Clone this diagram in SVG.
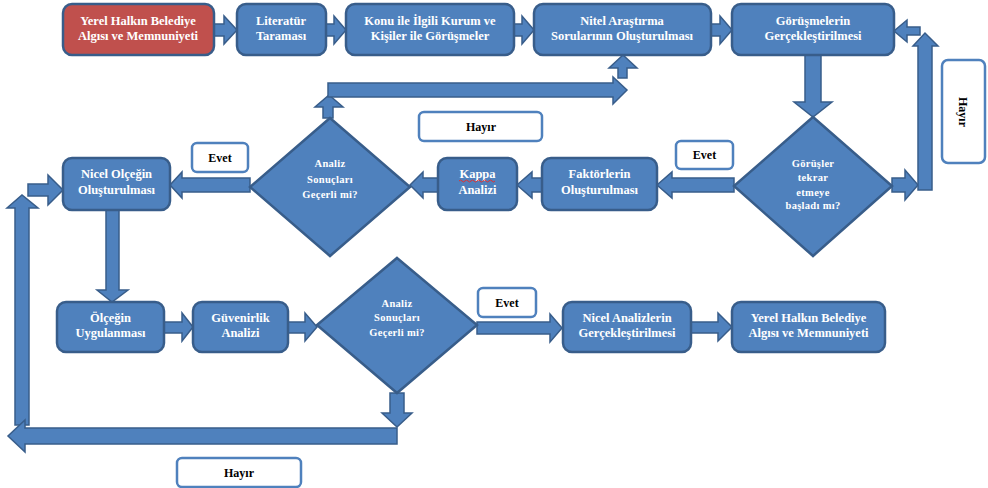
<svg xmlns="http://www.w3.org/2000/svg" width="988" height="488" viewBox="0 0 988 488">
<style>
.box{fill:#4F81BD;stroke:#385D8A;stroke-width:2.5}
.red{fill:#C0504D;stroke:#385D8A;stroke-width:2.5}
.arr{fill:#4F81BD;stroke:#385D8A;stroke-width:1.5;stroke-linejoin:miter}
.lbl{fill:#fff;stroke:#4F81BD;stroke-width:2.5}
.t{font-family:"Liberation Serif","Times New Roman",serif;font-weight:bold;font-size:12.5px;fill:#fff;text-anchor:middle}
.d{font-size:10.5px;letter-spacing:0.3px}
.k{fill:#000;font-size:12px}
</style>
<rect width="988" height="488" fill="#fff"/>
<g id="connectors">
<polygon class="arr" points="214,24 224,24 224,16 237,30 224,44 224,36 214,36"/>
<polygon class="arr" points="326,24 334,24 334,16 346,30 334,44 334,36 326,36"/>
<polygon class="arr" points="514,24 522,24 522,16 534,30 522,44 522,36 514,36"/>
<polygon class="arr" points="711,24 720,24 720,16 732,30 720,44 720,36 711,36"/>
<polygon class="arr" points="805,55 821,55 821,102 832,102 813,117 794,102 805,102"/>
<polygon class="arr" points="892,178 905,178 905,170 918,185 905,200 905,192 892,192"/>
<polygon class="arr" points="918,190 918,46 913,46 925,33 938,46 932,46 932,190"/>
<polygon class="arr" points="920,27 907,27 907,20 894,31 907,42 907,35 920,35"/>
<polygon class="arr" points="734,178 672,178 672,172 657,185 672,198 672,192 734,192"/>
<polygon class="arr" points="542,178 532,178 532,172 517,185 532,198 532,192 542,192"/>
<polygon class="arr" points="438,178 423,178 423,172 410,185 423,198 423,192 438,192"/>
<polygon class="arr" points="250,178 182,178 182,172 170,185 182,198 182,192 250,192"/>
<polygon class="arr" points="28,184 48,184 48,175 63,190 48,205 48,196 28,196"/>
<polygon class="arr" points="15,425 15,208 7,208 22,195 38,208 29,208 29,425"/>
<polygon class="arr" points="397,428 25,428 25,420 8,436 25,452 25,444 397,444"/>
<polygon class="arr" points="390,393 404,393 404,413 412,413 397,427 382,413 390,413"/>
<polygon class="arr" points="323,118 323,107 315,107 329,95 343,107 333,107 333,118"/>
<polygon class="arr" points="328,83 613,83 613,77 627,90 613,104 613,97 328,97"/>
<polygon class="arr" points="618,78 618,68 609,68 623,55 637,68 627,68 627,78"/>
<polygon class="arr" points="106,210 119,210 119,290 128,290 112,302 97,290 106,290"/>
<polygon class="arr" points="164,322 182,322 182,313 193,327 182,341 182,333 164,333"/>
<polygon class="arr" points="288,322 305,322 305,313 317,327 305,341 305,333 288,333"/>
<polygon class="arr" points="477,322 550,322 550,314 562,328 550,342 550,334 477,334"/>
<polygon class="arr" points="691,322 718,322 718,313 732,327 718,341 718,333 691,333"/>
</g>
<g id="n1"><rect class="red" x="63" y="4" width="151" height="51" rx="9"/><text class="t" x="138" y="25">Yerel Halkın Belediye</text><text class="t" x="138" y="40">Algısı ve Memnuniyeti</text></g>
<g id="n2"><rect class="box" x="237" y="4" width="89" height="51" rx="9"/><text class="t" x="281" y="25">Literatür</text><text class="t" x="281" y="40">Taraması</text></g>
<g id="n3"><rect class="box" x="346" y="4" width="168" height="51" rx="9"/><text class="t" x="430" y="25">Konu ile İlgili Kurum ve</text><text class="t" x="430" y="40">Kişiler  ile Görüşmeler</text></g>
<g id="n4"><rect class="box" x="534" y="4" width="177" height="51" rx="9"/><text class="t" x="622" y="25">Nitel Araştırma</text><text class="t" x="622" y="40">Sorularının Oluşturulması</text></g>
<g id="n5"><rect class="box" x="732" y="4" width="162" height="51" rx="9"/><text class="t" x="813" y="25">Görüşmelerin</text><text class="t" x="813" y="40">Gerçekleştirilmesi</text></g>
<g id="d1"><polygon class="box" points="813,117 892,186 813,256 734,186"/><text class="t d" x="813" y="167">Görüşler</text><text class="t d" x="813" y="181">tekrar</text><text class="t d" x="813" y="196">etmeye</text><text class="t d" x="813" y="209">başladı mı?</text></g>
<g id="n6"><rect class="box" x="542" y="158" width="115" height="52" rx="9"/><text class="t" x="599.5" y="178">Faktörlerin</text><text class="t" x="599.5" y="194">Oluşturulması</text></g>
<g id="n7"><rect class="box" x="438" y="158" width="79" height="52" rx="9"/><text class="t" x="477.5" y="178">Kappa</text><path d="M459,181 q1.5,-2 3,0 t3,0 t3,0 t3,0 t3,0 t3,0 t3,0 t3,0 t3,0 t3,0 t3,0 t3,0" fill="none" stroke="#E03030" stroke-width="1"/><text class="t" x="477.5" y="194">Analizi</text></g>
<g id="d2"><polygon class="box" points="330,118 410,187 330,256 250,187"/><text class="t d" x="330" y="167">Analiz</text><text class="t d" x="330" y="183">Sonuçları</text><text class="t d" x="330" y="198">Geçerli mi?</text></g>
<g id="n8"><rect class="box" x="63" y="158" width="107" height="52" rx="9"/><text class="t" x="116.5" y="178">Nicel Olçeğin</text><text class="t" x="116.5" y="194">Oluşturulması</text></g>
<g id="n9"><rect class="box" x="57" y="302" width="107" height="50" rx="9"/><text class="t" x="110.5" y="322">Ölçeğin</text><text class="t" x="110.5" y="337">Uygulanması</text></g>
<g id="n10"><rect class="box" x="193" y="302" width="95" height="50" rx="9"/><text class="t" x="240.5" y="322">Güvenirlik</text><text class="t" x="240.5" y="337">Analizi</text></g>
<g id="d3"><polygon class="box" points="397,258 477,325 397,393 317,325"/><text class="t d" x="397" y="307">Analiz</text><text class="t d" x="397" y="321">Sonuçları</text><text class="t d" x="397" y="336">Geçerli mi?</text></g>
<g id="n11"><rect class="box" x="563" y="302" width="128" height="50" rx="9"/><text class="t" x="627" y="322">Nicel Analizlerin</text><text class="t" x="627" y="337">Gerçekleştirilmesi</text></g>
<g id="n12"><rect class="box" x="732" y="302" width="153" height="50" rx="9"/><text class="t" x="808.5" y="322">Yerel Halkın Belediye</text><text class="t" x="808.5" y="337">Algısı ve Memnuniyeti</text></g>
<g id="l1"><rect class="lbl" x="419" y="112" width="123" height="29" rx="5"/><text class="t k" x="481" y="130.5">Hayır</text></g>
<g id="l2"><rect class="lbl" x="192" y="143" width="56" height="29" rx="5"/><text class="t k" x="220" y="161.5">Evet</text></g>
<g id="l3"><rect class="lbl" x="676" y="141" width="57" height="28" rx="5"/><text class="t k" x="704.5" y="159">Evet</text></g>
<g id="l4"><rect class="lbl" x="478" y="288" width="58" height="29" rx="5"/><text class="t k" x="507" y="306.5">Evet</text></g>
<g id="l5"><rect class="lbl" x="177" y="458" width="124" height="29" rx="5"/><text class="t k" x="239" y="476.5">Hayır</text></g>
<g id="l6"><rect class="lbl" x="942" y="60" width="43" height="103" rx="6"/><text class="t k" x="963" y="116" transform="rotate(90 963 112)">Hayır</text></g>
</svg>
